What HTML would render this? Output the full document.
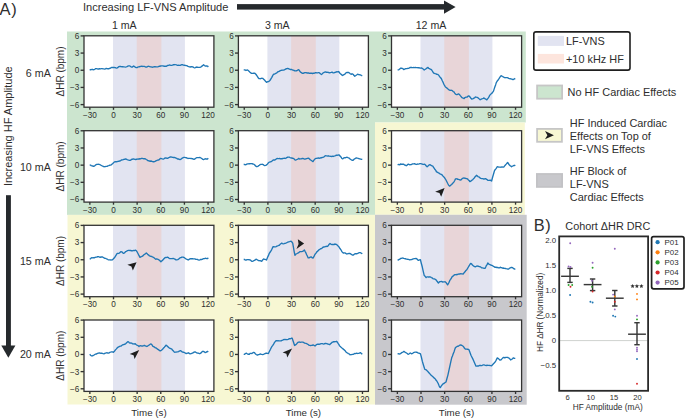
<!DOCTYPE html>
<html><head><meta charset="utf-8"><style>
html,body{margin:0;padding:0;background:#fff;}
body{width:685px;height:418px;overflow:hidden;}
svg{display:block;font-family:"Liberation Sans",sans-serif;}
</style></head><body>
<svg width="685" height="418" viewBox="0 0 685 418">
<rect x="67" y="31.5" width="308" height="183.4" fill="#cce5cf"/>
<rect x="375" y="31.5" width="150.8" height="91.0" fill="#cce5cf"/>
<rect x="67.5" y="214.9" width="307.5" height="189.6" fill="#f7f7d3"/>
<rect x="375" y="122.5" width="149.8" height="92.3" fill="#f7f7d3"/>
<rect x="375" y="214.8" width="151.7" height="189.9" fill="#c8c8cc"/>
<rect x="84.0" y="35.8" width="129.9" height="71.4" fill="#fff"/>
<rect x="113.00" y="35.8" width="71.92" height="71.4" fill="#e2e4f1"/>
<rect x="136.74" y="35.8" width="24.64" height="71.4" fill="#e8d5d8"/>
<polyline points="89.70,70.20 90.54,69.67 91.39,69.53 92.23,69.27 93.08,69.62 93.92,69.76 94.77,69.22 95.61,68.63 96.46,68.62 97.30,68.84 98.11,68.99 98.93,69.00 99.74,68.69 100.56,68.83 101.37,68.65 102.19,68.63 103.00,68.83 103.81,68.91 104.63,69.08 105.44,68.88 106.26,68.32 107.07,68.58 107.89,68.73 108.70,68.90 109.48,68.43 110.27,68.27 111.05,67.68 111.83,67.52 112.62,67.37 113.40,67.51 114.18,67.31 114.96,67.57 115.75,67.77 116.53,68.06 117.31,67.91 118.09,67.38 118.87,66.60 119.65,66.47 120.44,66.41 121.22,66.59 122.00,66.77 122.83,66.64 123.67,66.80 124.50,66.95 125.33,67.08 126.17,66.88 127.00,66.58 127.83,66.17 128.67,65.85 129.50,65.81 130.33,66.26 131.17,66.87 132.00,67.20 132.83,66.61 133.67,66.06 134.50,66.60 135.33,67.32 136.17,67.46 137.00,67.56 137.80,67.10 138.60,66.94 139.40,66.77 140.20,66.48 141.00,66.43 141.80,66.25 142.60,66.47 143.40,66.33 144.20,66.41 145.00,66.73 145.80,67.00 146.60,67.17 147.38,66.66 148.16,66.25 148.95,66.30 149.73,66.54 150.51,66.91 151.29,66.85 152.08,67.24 152.86,67.14 153.64,66.80 154.42,66.68 155.21,66.71 155.99,66.84 156.77,66.86 157.55,66.93 158.34,66.69 159.12,66.23 159.90,66.25 160.68,65.96 161.46,65.89 162.25,65.95 163.03,65.89 163.81,66.25 164.59,66.16 165.38,66.24 166.16,66.32 166.94,65.87 167.72,65.47 168.51,65.43 169.29,65.03 170.07,65.21 170.85,65.44 171.64,65.43 172.42,65.16 173.20,64.78 173.99,64.73 174.78,64.55 175.57,64.70 176.37,64.80 177.16,65.22 177.95,65.33 178.74,65.22 179.53,65.40 180.32,65.31 181.12,64.97 181.91,64.66 182.70,64.75 183.46,65.07 184.22,65.22 184.98,65.45 185.74,65.51 186.50,65.56 187.26,65.93 188.02,66.39 188.78,66.60 189.54,66.83 190.30,67.00 191.14,66.71 191.99,66.77 192.83,66.87 193.68,67.49 194.52,67.90 195.37,67.64 196.21,67.22 197.06,67.02 197.90,67.40 198.71,67.41 199.53,67.38 200.34,67.22 201.16,66.82 201.97,66.14 202.79,65.44 203.60,64.78 204.38,65.49 205.17,66.07 205.95,66.02 206.73,65.99 207.52,66.05 208.30,67.00" fill="none" stroke="#1f77b6" stroke-width="1.35" stroke-linejoin="round"/>
<rect x="84.0" y="35.8" width="129.9" height="71.4" fill="none" stroke="#333333" stroke-width="1.3"/>
<line x1="89.86" y1="107.20" x2="89.86" y2="109.80" stroke="#333333" stroke-width="1.35"/>
<text x="89.86" y="117.70" font-size="8.2" text-anchor="middle" fill="#2e2e2e" >&#8722;30</text>
<line x1="113.50" y1="107.20" x2="113.50" y2="109.80" stroke="#333333" stroke-width="1.35"/>
<text x="113.50" y="117.70" font-size="8.2" text-anchor="middle" fill="#2e2e2e" >0</text>
<line x1="137.14" y1="107.20" x2="137.14" y2="109.80" stroke="#333333" stroke-width="1.35"/>
<text x="137.14" y="117.70" font-size="8.2" text-anchor="middle" fill="#2e2e2e" >30</text>
<line x1="160.78" y1="107.20" x2="160.78" y2="109.80" stroke="#333333" stroke-width="1.35"/>
<text x="160.78" y="117.70" font-size="8.2" text-anchor="middle" fill="#2e2e2e" >60</text>
<line x1="184.42" y1="107.20" x2="184.42" y2="109.80" stroke="#333333" stroke-width="1.35"/>
<text x="184.42" y="117.70" font-size="8.2" text-anchor="middle" fill="#2e2e2e" >90</text>
<line x1="208.06" y1="107.20" x2="208.06" y2="109.80" stroke="#333333" stroke-width="1.35"/>
<text x="208.06" y="117.70" font-size="8.2" text-anchor="middle" fill="#2e2e2e" >120</text>
<line x1="80.60" y1="35.90" x2="84.00" y2="35.90" stroke="#333333" stroke-width="1.35"/>
<text x="79.40" y="38.80" font-size="8.2" text-anchor="end" fill="#2e2e2e" >6</text>
<line x1="80.60" y1="53.07" x2="84.00" y2="53.07" stroke="#333333" stroke-width="1.35"/>
<text x="79.40" y="55.97" font-size="8.2" text-anchor="end" fill="#2e2e2e" >3</text>
<line x1="80.60" y1="70.25" x2="84.00" y2="70.25" stroke="#333333" stroke-width="1.35"/>
<text x="79.40" y="73.15" font-size="8.2" text-anchor="end" fill="#2e2e2e" >0</text>
<line x1="80.60" y1="87.42" x2="84.00" y2="87.42" stroke="#333333" stroke-width="1.35"/>
<text x="79.40" y="90.33" font-size="8.2" text-anchor="end" fill="#2e2e2e" >&#8722;3</text>
<line x1="80.60" y1="104.60" x2="84.00" y2="104.60" stroke="#333333" stroke-width="1.35"/>
<text x="79.40" y="107.50" font-size="8.2" text-anchor="end" fill="#2e2e2e" >&#8722;6</text>
<rect x="238.4" y="35.8" width="130.0" height="71.4" fill="#fff"/>
<rect x="267.40" y="35.8" width="71.92" height="71.4" fill="#e2e4f1"/>
<rect x="291.14" y="35.8" width="24.64" height="71.4" fill="#e8d5d8"/>
<polyline points="243.70,69.80 244.46,69.82 245.22,70.01 245.98,70.49 246.74,70.16 247.50,69.97 248.26,70.60 249.02,71.22 249.78,71.97 250.54,72.65 251.30,73.26 252.06,73.41 252.82,73.39 253.58,73.23 254.34,73.19 255.10,73.50 255.86,74.25 256.62,75.27 257.38,76.42 258.14,77.78 258.90,78.55 259.66,78.66 260.42,78.73 261.18,78.32 261.94,78.28 262.70,78.31 263.46,79.13 264.22,79.70 264.98,80.56 265.74,81.58 266.50,82.33 267.26,81.92 268.02,81.56 268.78,81.50 269.54,80.81 270.30,80.04 271.06,78.59 271.82,77.35 272.58,75.86 273.34,74.45 274.10,74.10 274.86,73.97 275.62,73.34 276.38,73.14 277.14,72.44 277.90,71.75 278.70,71.62 279.50,71.22 280.30,70.62 281.10,70.40 281.90,70.27 282.70,70.20 283.50,70.14 284.34,69.77 285.18,69.46 286.01,68.79 286.85,68.74 287.69,68.42 288.52,68.62 289.36,69.20 290.20,69.47 290.98,69.54 291.77,69.47 292.55,70.04 293.33,70.20 294.12,70.52 294.90,70.75 295.66,70.91 296.42,70.74 297.18,70.57 297.94,69.90 298.70,69.68 299.46,70.71 300.22,71.81 300.98,72.46 301.74,72.85 302.50,73.41 303.26,73.40 304.02,72.95 304.78,72.77 305.54,72.62 306.30,72.69 307.06,73.03 307.82,73.01 308.58,72.95 309.34,73.34 310.10,73.25 310.94,73.23 311.79,73.11 312.63,73.59 313.48,73.18 314.32,73.21 315.17,72.78 316.01,72.78 316.86,72.91 317.70,72.92 318.46,72.68 319.22,72.64 319.98,73.41 320.74,73.98 321.50,74.50 322.26,73.79 323.02,73.03 323.78,72.52 324.54,72.24 325.30,71.93 326.14,72.22 326.99,72.15 327.83,72.38 328.68,72.50 329.52,72.82 330.37,72.57 331.21,72.37 332.06,72.10 332.90,72.76 333.71,72.89 334.53,72.55 335.34,72.26 336.16,72.06 336.97,71.62 337.79,71.80 338.60,71.52 339.36,72.48 340.12,73.56 340.88,74.08 341.64,74.76 342.40,75.46 343.16,75.19 343.92,74.56 344.68,74.27 345.44,73.43 346.20,72.60 347.01,72.51 347.83,72.51 348.64,72.42 349.46,73.07 350.27,73.71 351.09,74.32 351.90,73.85 352.62,74.00 353.35,74.49 354.07,75.52 354.80,76.25 355.50,75.78 356.20,75.21 356.90,74.79 357.60,74.23 358.38,74.51 359.17,74.60 359.95,74.88 360.73,74.98 361.52,75.51 362.30,75.90" fill="none" stroke="#1f77b6" stroke-width="1.35" stroke-linejoin="round"/>
<rect x="238.4" y="35.8" width="130.0" height="71.4" fill="none" stroke="#333333" stroke-width="1.3"/>
<line x1="244.26" y1="107.20" x2="244.26" y2="109.80" stroke="#333333" stroke-width="1.35"/>
<text x="244.26" y="117.70" font-size="8.2" text-anchor="middle" fill="#2e2e2e" >&#8722;30</text>
<line x1="267.90" y1="107.20" x2="267.90" y2="109.80" stroke="#333333" stroke-width="1.35"/>
<text x="267.90" y="117.70" font-size="8.2" text-anchor="middle" fill="#2e2e2e" >0</text>
<line x1="291.54" y1="107.20" x2="291.54" y2="109.80" stroke="#333333" stroke-width="1.35"/>
<text x="291.54" y="117.70" font-size="8.2" text-anchor="middle" fill="#2e2e2e" >30</text>
<line x1="315.18" y1="107.20" x2="315.18" y2="109.80" stroke="#333333" stroke-width="1.35"/>
<text x="315.18" y="117.70" font-size="8.2" text-anchor="middle" fill="#2e2e2e" >60</text>
<line x1="338.82" y1="107.20" x2="338.82" y2="109.80" stroke="#333333" stroke-width="1.35"/>
<text x="338.82" y="117.70" font-size="8.2" text-anchor="middle" fill="#2e2e2e" >90</text>
<line x1="362.46" y1="107.20" x2="362.46" y2="109.80" stroke="#333333" stroke-width="1.35"/>
<text x="362.46" y="117.70" font-size="8.2" text-anchor="middle" fill="#2e2e2e" >120</text>
<line x1="235.00" y1="35.90" x2="238.40" y2="35.90" stroke="#333333" stroke-width="1.35"/>
<text x="233.80" y="38.80" font-size="8.2" text-anchor="end" fill="#2e2e2e" >6</text>
<line x1="235.00" y1="53.07" x2="238.40" y2="53.07" stroke="#333333" stroke-width="1.35"/>
<text x="233.80" y="55.97" font-size="8.2" text-anchor="end" fill="#2e2e2e" >3</text>
<line x1="235.00" y1="70.25" x2="238.40" y2="70.25" stroke="#333333" stroke-width="1.35"/>
<text x="233.80" y="73.15" font-size="8.2" text-anchor="end" fill="#2e2e2e" >0</text>
<line x1="235.00" y1="87.42" x2="238.40" y2="87.42" stroke="#333333" stroke-width="1.35"/>
<text x="233.80" y="90.33" font-size="8.2" text-anchor="end" fill="#2e2e2e" >&#8722;3</text>
<line x1="235.00" y1="104.60" x2="238.40" y2="104.60" stroke="#333333" stroke-width="1.35"/>
<text x="233.80" y="107.50" font-size="8.2" text-anchor="end" fill="#2e2e2e" >&#8722;6</text>
<rect x="391.5" y="35.8" width="130.1" height="71.4" fill="#fff"/>
<rect x="420.50" y="35.8" width="71.92" height="71.4" fill="#e2e4f1"/>
<rect x="444.24" y="35.8" width="24.64" height="71.4" fill="#e8d5d8"/>
<polyline points="397.60,69.90 398.33,69.88 399.05,69.57 399.77,68.94 400.50,68.29 401.31,68.18 402.13,68.39 402.94,68.72 403.76,69.55 404.57,69.16 405.39,68.75 406.20,68.59 406.96,68.65 407.72,68.32 408.48,68.29 409.24,68.02 410.00,67.46 410.76,67.38 411.52,67.50 412.28,67.67 413.04,67.61 413.80,67.46 414.64,67.62 415.49,67.51 416.33,67.66 417.18,67.64 418.02,67.73 418.87,67.58 419.71,67.99 420.56,68.08 421.40,67.95 422.10,68.27 422.80,68.68 423.50,69.36 424.20,70.02 424.96,69.51 425.72,68.99 426.48,68.36 427.24,67.85 428.00,67.40 428.73,68.37 429.45,68.56 430.17,69.13 430.90,69.38 431.60,69.87 432.30,70.99 433.00,72.07 433.70,73.17 434.48,73.37 435.27,73.71 436.05,73.91 436.83,74.40 437.62,74.33 438.40,74.94 439.12,75.82 439.85,76.94 440.57,77.93 441.30,78.42 442.06,80.26 442.82,81.79 443.58,83.60 444.34,85.05 445.10,86.32 445.83,87.23 446.55,87.79 447.27,88.34 448.00,89.07 448.74,89.66 449.48,90.04 450.22,90.32 450.96,90.26 451.70,90.35 452.46,90.79 453.22,91.62 453.98,91.90 454.74,93.08 455.50,94.18 456.26,94.48 457.02,94.64 457.78,94.22 458.54,94.00 459.30,94.29 460.10,95.43 460.90,96.39 461.70,97.31 462.50,97.83 463.30,98.16 464.10,98.54 464.88,97.52 465.67,97.27 466.45,97.12 467.23,97.05 468.02,96.20 468.80,95.83 469.52,96.45 470.25,97.30 470.98,98.25 471.70,99.14 472.46,98.78 473.22,98.58 473.98,98.10 474.74,97.62 475.50,96.97 476.28,97.19 477.07,97.31 477.85,97.65 478.63,98.49 479.42,99.00 480.20,99.82 480.96,99.26 481.72,98.96 482.48,98.68 483.24,98.30 484.00,97.88 484.70,98.69 485.40,98.83 486.10,99.44 486.80,99.87 487.56,98.79 488.32,97.81 489.08,96.67 489.84,95.16 490.60,94.36 491.33,93.59 492.05,93.08 492.77,92.11 493.50,91.10 494.20,88.85 494.90,86.75 495.60,84.91 496.30,82.63 497.10,81.27 497.90,80.29 498.70,79.14 499.50,77.84 500.30,76.64 501.10,75.73 501.86,76.05 502.62,76.52 503.38,76.86 504.14,77.36 504.90,77.73 505.66,77.65 506.42,77.58 507.18,77.63 507.94,77.91 508.70,78.32 509.46,78.65 510.22,78.73 510.98,78.84 511.74,79.07 512.50,79.49 513.43,79.50 514.37,78.87 515.30,78.50" fill="none" stroke="#1f77b6" stroke-width="1.35" stroke-linejoin="round"/>
<rect x="391.5" y="35.8" width="130.1" height="71.4" fill="none" stroke="#333333" stroke-width="1.3"/>
<line x1="397.36" y1="107.20" x2="397.36" y2="109.80" stroke="#333333" stroke-width="1.35"/>
<text x="397.36" y="117.70" font-size="8.2" text-anchor="middle" fill="#2e2e2e" >&#8722;30</text>
<line x1="421.00" y1="107.20" x2="421.00" y2="109.80" stroke="#333333" stroke-width="1.35"/>
<text x="421.00" y="117.70" font-size="8.2" text-anchor="middle" fill="#2e2e2e" >0</text>
<line x1="444.64" y1="107.20" x2="444.64" y2="109.80" stroke="#333333" stroke-width="1.35"/>
<text x="444.64" y="117.70" font-size="8.2" text-anchor="middle" fill="#2e2e2e" >30</text>
<line x1="468.28" y1="107.20" x2="468.28" y2="109.80" stroke="#333333" stroke-width="1.35"/>
<text x="468.28" y="117.70" font-size="8.2" text-anchor="middle" fill="#2e2e2e" >60</text>
<line x1="491.92" y1="107.20" x2="491.92" y2="109.80" stroke="#333333" stroke-width="1.35"/>
<text x="491.92" y="117.70" font-size="8.2" text-anchor="middle" fill="#2e2e2e" >90</text>
<line x1="515.56" y1="107.20" x2="515.56" y2="109.80" stroke="#333333" stroke-width="1.35"/>
<text x="515.56" y="117.70" font-size="8.2" text-anchor="middle" fill="#2e2e2e" >120</text>
<line x1="388.10" y1="35.90" x2="391.50" y2="35.90" stroke="#333333" stroke-width="1.35"/>
<text x="386.90" y="38.80" font-size="8.2" text-anchor="end" fill="#2e2e2e" >6</text>
<line x1="388.10" y1="53.07" x2="391.50" y2="53.07" stroke="#333333" stroke-width="1.35"/>
<text x="386.90" y="55.97" font-size="8.2" text-anchor="end" fill="#2e2e2e" >3</text>
<line x1="388.10" y1="70.25" x2="391.50" y2="70.25" stroke="#333333" stroke-width="1.35"/>
<text x="386.90" y="73.15" font-size="8.2" text-anchor="end" fill="#2e2e2e" >0</text>
<line x1="388.10" y1="87.42" x2="391.50" y2="87.42" stroke="#333333" stroke-width="1.35"/>
<text x="386.90" y="90.33" font-size="8.2" text-anchor="end" fill="#2e2e2e" >&#8722;3</text>
<line x1="388.10" y1="104.60" x2="391.50" y2="104.60" stroke="#333333" stroke-width="1.35"/>
<text x="386.90" y="107.50" font-size="8.2" text-anchor="end" fill="#2e2e2e" >&#8722;6</text>
<rect x="84.0" y="130.7" width="129.9" height="71.4" fill="#fff"/>
<rect x="113.00" y="130.7" width="71.92" height="71.4" fill="#e2e4f1"/>
<rect x="136.74" y="130.7" width="24.64" height="71.4" fill="#e8d5d8"/>
<polyline points="89.70,164.90 90.46,165.08 91.22,165.65 91.98,165.84 92.74,166.02 93.50,166.25 94.28,166.08 95.07,165.51 95.85,164.76 96.63,164.41 97.42,164.38 98.20,164.28 99.01,164.31 99.83,164.55 100.64,165.05 101.46,165.51 102.27,166.04 103.09,166.21 103.90,166.81 104.70,166.61 105.50,166.53 106.30,166.42 107.10,166.44 107.90,165.79 108.70,165.62 109.46,165.28 110.22,165.17 110.98,165.09 111.74,164.26 112.50,163.87 113.28,162.96 114.07,162.31 114.85,161.79 115.63,161.74 116.42,161.74 117.20,161.67 118.04,161.28 118.88,161.32 119.71,160.89 120.55,160.72 121.39,159.99 122.23,159.84 123.06,159.74 123.90,159.42 124.70,159.27 125.50,158.99 126.30,159.21 127.10,159.60 127.90,159.90 128.70,160.04 129.50,160.36 130.26,160.35 131.02,159.91 131.78,159.27 132.54,159.24 133.30,158.84 134.11,159.07 134.93,159.32 135.74,159.51 136.56,159.26 137.37,159.08 138.19,158.91 139.00,159.24 139.81,158.67 140.63,158.85 141.44,158.44 142.26,158.40 143.07,158.69 143.89,158.79 144.70,158.66 145.50,158.93 146.30,159.52 147.10,159.96 147.90,160.66 148.70,160.78 149.50,161.02 150.28,161.26 151.07,160.99 151.85,161.27 152.63,161.55 153.42,161.76 154.20,161.71 155.01,161.38 155.83,160.86 156.64,160.67 157.46,160.06 158.27,159.99 159.09,159.74 159.90,158.85 160.71,158.36 161.53,158.60 162.34,158.83 163.16,159.04 163.97,158.78 164.79,158.13 165.60,157.92 166.36,157.96 167.12,158.40 167.88,158.23 168.64,157.67 169.40,157.35 170.21,156.96 171.03,157.02 171.84,157.12 172.66,157.40 173.47,157.48 174.29,157.48 175.10,157.71 175.91,158.01 176.73,158.42 177.54,158.98 178.36,158.94 179.17,159.36 179.99,159.50 180.80,159.29 181.58,158.65 182.37,158.07 183.15,157.69 183.93,157.41 184.72,157.35 185.50,157.56 186.30,157.76 187.10,158.02 187.90,158.47 188.70,158.43 189.50,158.41 190.30,158.45 191.06,158.64 191.82,158.52 192.58,158.76 193.34,159.03 194.10,159.38 194.91,158.96 195.73,158.29 196.54,157.69 197.36,157.64 198.17,157.70 198.99,157.57 199.80,157.37 200.56,157.76 201.32,158.25 202.08,158.80 202.84,159.35 203.60,159.59 204.38,159.24 205.17,158.74 205.95,159.08 206.73,158.93 207.52,158.99 208.30,158.30" fill="none" stroke="#1f77b6" stroke-width="1.35" stroke-linejoin="round"/>
<rect x="84.0" y="130.7" width="129.9" height="71.4" fill="none" stroke="#333333" stroke-width="1.3"/>
<line x1="89.86" y1="202.10" x2="89.86" y2="204.70" stroke="#333333" stroke-width="1.35"/>
<text x="89.86" y="212.60" font-size="8.2" text-anchor="middle" fill="#2e2e2e" >&#8722;30</text>
<line x1="113.50" y1="202.10" x2="113.50" y2="204.70" stroke="#333333" stroke-width="1.35"/>
<text x="113.50" y="212.60" font-size="8.2" text-anchor="middle" fill="#2e2e2e" >0</text>
<line x1="137.14" y1="202.10" x2="137.14" y2="204.70" stroke="#333333" stroke-width="1.35"/>
<text x="137.14" y="212.60" font-size="8.2" text-anchor="middle" fill="#2e2e2e" >30</text>
<line x1="160.78" y1="202.10" x2="160.78" y2="204.70" stroke="#333333" stroke-width="1.35"/>
<text x="160.78" y="212.60" font-size="8.2" text-anchor="middle" fill="#2e2e2e" >60</text>
<line x1="184.42" y1="202.10" x2="184.42" y2="204.70" stroke="#333333" stroke-width="1.35"/>
<text x="184.42" y="212.60" font-size="8.2" text-anchor="middle" fill="#2e2e2e" >90</text>
<line x1="208.06" y1="202.10" x2="208.06" y2="204.70" stroke="#333333" stroke-width="1.35"/>
<text x="208.06" y="212.60" font-size="8.2" text-anchor="middle" fill="#2e2e2e" >120</text>
<line x1="80.60" y1="130.80" x2="84.00" y2="130.80" stroke="#333333" stroke-width="1.35"/>
<text x="79.40" y="133.70" font-size="8.2" text-anchor="end" fill="#2e2e2e" >6</text>
<line x1="80.60" y1="147.97" x2="84.00" y2="147.97" stroke="#333333" stroke-width="1.35"/>
<text x="79.40" y="150.87" font-size="8.2" text-anchor="end" fill="#2e2e2e" >3</text>
<line x1="80.60" y1="165.15" x2="84.00" y2="165.15" stroke="#333333" stroke-width="1.35"/>
<text x="79.40" y="168.05" font-size="8.2" text-anchor="end" fill="#2e2e2e" >0</text>
<line x1="80.60" y1="182.32" x2="84.00" y2="182.32" stroke="#333333" stroke-width="1.35"/>
<text x="79.40" y="185.22" font-size="8.2" text-anchor="end" fill="#2e2e2e" >&#8722;3</text>
<line x1="80.60" y1="199.50" x2="84.00" y2="199.50" stroke="#333333" stroke-width="1.35"/>
<text x="79.40" y="202.40" font-size="8.2" text-anchor="end" fill="#2e2e2e" >&#8722;6</text>
<rect x="238.4" y="130.7" width="130.0" height="71.4" fill="#fff"/>
<rect x="267.40" y="130.7" width="71.92" height="71.4" fill="#e2e4f1"/>
<rect x="291.14" y="130.7" width="24.64" height="71.4" fill="#e8d5d8"/>
<polyline points="243.70,164.50 244.47,164.33 245.25,164.73 246.02,164.64 246.79,164.20 247.56,163.83 248.34,163.91 249.11,163.64 249.88,163.73 250.65,163.60 251.43,163.58 252.20,163.71 253.00,164.10 253.80,164.19 254.60,164.73 255.40,165.81 256.20,166.48 257.00,166.68 257.76,166.47 258.52,165.72 259.28,165.34 260.04,164.64 260.80,164.37 261.61,164.31 262.43,164.29 263.24,164.61 264.06,165.28 264.87,165.61 265.69,165.46 266.50,164.87 267.26,164.22 268.02,163.31 268.78,162.55 269.54,162.04 270.30,161.81 271.06,161.73 271.82,161.29 272.58,160.37 273.34,160.02 274.10,159.86 274.88,160.07 275.67,159.44 276.45,158.79 277.23,158.48 278.02,158.60 278.80,158.57 279.58,158.45 280.37,158.83 281.15,158.65 281.93,158.78 282.72,158.50 283.50,158.41 284.31,158.19 285.13,158.48 285.94,158.12 286.76,157.62 287.57,157.22 288.39,157.17 289.20,157.08 290.01,157.52 290.83,157.78 291.64,158.01 292.46,158.23 293.27,158.47 294.09,158.87 294.90,159.87 295.66,160.12 296.42,159.75 297.18,159.42 297.94,158.96 298.70,158.37 299.51,158.96 300.33,158.94 301.14,158.86 301.96,158.52 302.77,158.46 303.59,158.70 304.40,159.11 305.16,159.07 305.92,158.75 306.68,158.58 307.44,158.38 308.20,158.26 309.00,158.44 309.80,159.36 310.60,159.99 311.40,160.43 312.20,161.10 313.00,161.57 313.78,160.44 314.57,159.33 315.35,158.72 316.13,158.42 316.92,158.27 317.70,158.05 318.46,158.00 319.22,158.24 319.98,158.13 320.74,157.77 321.50,157.89 322.26,157.38 323.02,157.35 323.78,157.00 324.54,156.37 325.30,155.67 326.11,155.82 326.93,155.81 327.74,156.08 328.56,155.79 329.37,156.11 330.19,156.29 331.00,156.41 331.76,156.54 332.52,156.23 333.28,156.46 334.04,156.16 334.80,155.95 335.58,155.65 336.37,155.12 337.15,155.25 337.93,155.18 338.72,154.93 339.50,155.24 340.23,156.29 340.95,156.95 341.67,158.16 342.40,158.81 343.18,158.57 343.97,157.84 344.75,157.64 345.53,157.74 346.32,157.38 347.10,157.24 347.91,157.62 348.73,157.85 349.54,158.49 350.36,159.29 351.17,159.78 351.99,160.28 352.80,160.37 353.56,159.86 354.32,158.95 355.08,158.61 355.84,158.05 356.60,157.92 357.41,158.14 358.23,158.31 359.04,158.79 359.86,158.87 360.67,159.07 361.49,159.37 362.30,159.20" fill="none" stroke="#1f77b6" stroke-width="1.35" stroke-linejoin="round"/>
<rect x="238.4" y="130.7" width="130.0" height="71.4" fill="none" stroke="#333333" stroke-width="1.3"/>
<line x1="244.26" y1="202.10" x2="244.26" y2="204.70" stroke="#333333" stroke-width="1.35"/>
<text x="244.26" y="212.60" font-size="8.2" text-anchor="middle" fill="#2e2e2e" >&#8722;30</text>
<line x1="267.90" y1="202.10" x2="267.90" y2="204.70" stroke="#333333" stroke-width="1.35"/>
<text x="267.90" y="212.60" font-size="8.2" text-anchor="middle" fill="#2e2e2e" >0</text>
<line x1="291.54" y1="202.10" x2="291.54" y2="204.70" stroke="#333333" stroke-width="1.35"/>
<text x="291.54" y="212.60" font-size="8.2" text-anchor="middle" fill="#2e2e2e" >30</text>
<line x1="315.18" y1="202.10" x2="315.18" y2="204.70" stroke="#333333" stroke-width="1.35"/>
<text x="315.18" y="212.60" font-size="8.2" text-anchor="middle" fill="#2e2e2e" >60</text>
<line x1="338.82" y1="202.10" x2="338.82" y2="204.70" stroke="#333333" stroke-width="1.35"/>
<text x="338.82" y="212.60" font-size="8.2" text-anchor="middle" fill="#2e2e2e" >90</text>
<line x1="362.46" y1="202.10" x2="362.46" y2="204.70" stroke="#333333" stroke-width="1.35"/>
<text x="362.46" y="212.60" font-size="8.2" text-anchor="middle" fill="#2e2e2e" >120</text>
<line x1="235.00" y1="130.80" x2="238.40" y2="130.80" stroke="#333333" stroke-width="1.35"/>
<text x="233.80" y="133.70" font-size="8.2" text-anchor="end" fill="#2e2e2e" >6</text>
<line x1="235.00" y1="147.97" x2="238.40" y2="147.97" stroke="#333333" stroke-width="1.35"/>
<text x="233.80" y="150.87" font-size="8.2" text-anchor="end" fill="#2e2e2e" >3</text>
<line x1="235.00" y1="165.15" x2="238.40" y2="165.15" stroke="#333333" stroke-width="1.35"/>
<text x="233.80" y="168.05" font-size="8.2" text-anchor="end" fill="#2e2e2e" >0</text>
<line x1="235.00" y1="182.32" x2="238.40" y2="182.32" stroke="#333333" stroke-width="1.35"/>
<text x="233.80" y="185.22" font-size="8.2" text-anchor="end" fill="#2e2e2e" >&#8722;3</text>
<line x1="235.00" y1="199.50" x2="238.40" y2="199.50" stroke="#333333" stroke-width="1.35"/>
<text x="233.80" y="202.40" font-size="8.2" text-anchor="end" fill="#2e2e2e" >&#8722;6</text>
<rect x="391.5" y="130.7" width="130.1" height="71.4" fill="#fff"/>
<rect x="420.50" y="130.7" width="71.92" height="71.4" fill="#e2e4f1"/>
<rect x="444.24" y="130.7" width="24.64" height="71.4" fill="#e8d5d8"/>
<polyline points="397.60,164.90 398.33,164.52 399.05,164.52 399.77,164.90 400.50,164.02 401.31,164.22 402.13,164.21 402.94,164.23 403.76,164.24 404.57,164.97 405.39,165.17 406.20,165.74 406.96,165.31 407.72,164.40 408.48,164.22 409.24,164.57 410.00,164.72 410.76,164.70 411.52,164.52 412.28,164.01 413.04,163.93 413.80,163.79 414.56,163.63 415.32,164.22 416.08,164.43 416.84,164.45 417.60,163.97 418.38,164.10 419.17,163.88 419.95,163.60 420.73,163.56 421.52,163.81 422.30,164.08 423.10,164.45 423.90,164.42 424.70,164.26 425.50,165.01 426.30,166.04 427.10,166.78 428.03,165.97 428.97,165.06 429.90,164.64 430.62,165.13 431.35,165.45 432.07,165.95 432.80,166.19 433.54,167.35 434.28,168.46 435.02,169.55 435.76,170.36 436.50,171.87 437.30,172.16 438.10,172.68 438.90,173.02 439.70,173.59 440.50,174.05 441.30,174.35 442.06,174.91 442.82,175.97 443.58,176.59 444.34,177.43 445.10,178.59 445.98,180.01 446.86,181.78 447.74,183.53 448.62,185.08 449.50,186.16 450.23,185.63 450.97,185.02 451.70,184.53 452.46,183.42 453.22,182.71 453.98,181.82 454.74,180.48 455.50,178.92 456.26,178.81 457.02,178.75 457.78,179.35 458.54,179.31 459.30,179.72 460.06,179.82 460.82,180.02 461.58,179.20 462.34,178.53 463.10,178.09 463.86,178.03 464.62,178.21 465.38,178.29 466.14,178.48 466.90,178.65 467.62,179.03 468.35,179.90 469.07,180.49 469.80,181.62 470.50,181.29 471.20,180.95 471.90,180.07 472.60,179.84 473.36,178.88 474.12,178.16 474.88,177.08 475.64,176.29 476.40,175.29 477.16,175.84 477.92,176.59 478.68,176.92 479.44,177.19 480.20,178.06 480.96,178.43 481.72,178.67 482.48,178.68 483.24,178.77 484.00,179.08 484.76,178.77 485.52,178.72 486.28,179.12 487.04,179.57 487.80,180.28 488.56,180.32 489.32,180.41 490.08,180.23 490.84,180.49 491.60,181.03 492.53,177.49 493.47,174.29 494.40,170.95 495.12,169.71 495.85,168.85 496.57,167.79 497.30,166.73 498.06,166.83 498.82,167.12 499.58,167.12 500.34,167.06 501.10,167.24 502.03,166.84 502.97,167.12 503.90,166.96 504.66,165.92 505.42,164.97 506.18,164.16 506.94,163.31 507.70,162.43 508.46,163.78 509.22,164.74 509.98,165.57 510.74,166.04 511.50,166.82 512.26,166.25 513.02,165.93 513.78,165.47 514.54,165.55 515.30,164.90" fill="none" stroke="#1f77b6" stroke-width="1.35" stroke-linejoin="round"/>
<rect x="391.5" y="130.7" width="130.1" height="71.4" fill="none" stroke="#333333" stroke-width="1.3"/>
<line x1="397.36" y1="202.10" x2="397.36" y2="204.70" stroke="#333333" stroke-width="1.35"/>
<text x="397.36" y="212.60" font-size="8.2" text-anchor="middle" fill="#2e2e2e" >&#8722;30</text>
<line x1="421.00" y1="202.10" x2="421.00" y2="204.70" stroke="#333333" stroke-width="1.35"/>
<text x="421.00" y="212.60" font-size="8.2" text-anchor="middle" fill="#2e2e2e" >0</text>
<line x1="444.64" y1="202.10" x2="444.64" y2="204.70" stroke="#333333" stroke-width="1.35"/>
<text x="444.64" y="212.60" font-size="8.2" text-anchor="middle" fill="#2e2e2e" >30</text>
<line x1="468.28" y1="202.10" x2="468.28" y2="204.70" stroke="#333333" stroke-width="1.35"/>
<text x="468.28" y="212.60" font-size="8.2" text-anchor="middle" fill="#2e2e2e" >60</text>
<line x1="491.92" y1="202.10" x2="491.92" y2="204.70" stroke="#333333" stroke-width="1.35"/>
<text x="491.92" y="212.60" font-size="8.2" text-anchor="middle" fill="#2e2e2e" >90</text>
<line x1="515.56" y1="202.10" x2="515.56" y2="204.70" stroke="#333333" stroke-width="1.35"/>
<text x="515.56" y="212.60" font-size="8.2" text-anchor="middle" fill="#2e2e2e" >120</text>
<line x1="388.10" y1="130.80" x2="391.50" y2="130.80" stroke="#333333" stroke-width="1.35"/>
<text x="386.90" y="133.70" font-size="8.2" text-anchor="end" fill="#2e2e2e" >6</text>
<line x1="388.10" y1="147.97" x2="391.50" y2="147.97" stroke="#333333" stroke-width="1.35"/>
<text x="386.90" y="150.87" font-size="8.2" text-anchor="end" fill="#2e2e2e" >3</text>
<line x1="388.10" y1="165.15" x2="391.50" y2="165.15" stroke="#333333" stroke-width="1.35"/>
<text x="386.90" y="168.05" font-size="8.2" text-anchor="end" fill="#2e2e2e" >0</text>
<line x1="388.10" y1="182.32" x2="391.50" y2="182.32" stroke="#333333" stroke-width="1.35"/>
<text x="386.90" y="185.22" font-size="8.2" text-anchor="end" fill="#2e2e2e" >&#8722;3</text>
<line x1="388.10" y1="199.50" x2="391.50" y2="199.50" stroke="#333333" stroke-width="1.35"/>
<text x="386.90" y="202.40" font-size="8.2" text-anchor="end" fill="#2e2e2e" >&#8722;6</text>
<rect x="84.0" y="225.3" width="129.9" height="71.4" fill="#fff"/>
<rect x="113.00" y="225.3" width="71.92" height="71.4" fill="#e2e4f1"/>
<rect x="136.74" y="225.3" width="24.64" height="71.4" fill="#e8d5d8"/>
<polyline points="89.70,259.30 90.46,258.69 91.22,257.93 91.98,257.70 92.74,257.86 93.50,257.70 94.34,257.74 95.19,257.46 96.03,257.20 96.88,257.09 97.72,256.59 98.57,256.69 99.41,257.10 100.26,257.24 101.10,256.99 101.86,256.92 102.62,256.99 103.38,257.47 104.14,258.07 104.90,258.24 105.66,258.35 106.42,258.78 107.18,259.05 107.94,259.54 108.70,259.94 109.46,259.81 110.22,259.93 110.98,260.04 111.74,259.90 112.50,259.81 113.45,258.82 114.40,257.77 115.33,256.27 116.27,254.77 117.20,253.44 117.96,253.42 118.72,253.45 119.48,253.02 120.24,252.21 121.00,251.58 121.76,251.78 122.52,252.58 123.28,253.40 124.04,253.05 124.80,252.66 125.53,251.64 126.25,251.34 126.97,250.98 127.70,250.66 128.44,250.43 129.18,250.39 129.92,250.49 130.66,250.40 131.40,250.79 132.20,250.90 133.00,250.55 133.80,250.40 134.60,250.58 135.40,250.19 136.20,250.53 137.15,251.97 138.10,253.71 139.05,255.68 140.00,257.41 140.70,256.82 141.40,256.67 142.10,256.31 142.80,255.95 143.68,255.07 144.55,254.35 145.43,253.74 146.30,252.92 147.10,253.65 147.90,254.61 148.70,255.05 149.50,255.92 150.20,256.07 150.90,256.43 151.60,256.33 152.30,256.83 153.15,257.20 154.00,257.79 154.85,258.58 155.70,259.24 156.52,258.87 157.35,259.13 158.18,259.49 159.00,259.96 159.95,260.83 160.90,261.81 161.83,260.85 162.77,260.15 163.70,259.06 164.46,258.28 165.22,257.54 165.98,257.63 166.74,257.37 167.50,257.21 168.30,257.61 169.10,258.30 169.90,258.58 170.70,258.60 171.50,258.62 172.30,258.60 173.04,258.40 173.78,258.67 174.52,258.83 175.26,259.34 176.00,259.83 176.84,259.83 177.68,259.69 178.51,259.09 179.35,258.46 180.19,257.66 181.02,257.62 181.86,257.11 182.70,257.07 183.48,257.22 184.27,257.67 185.05,258.19 185.83,258.83 186.62,259.24 187.40,259.57 188.24,259.95 189.07,259.42 189.91,258.94 190.75,258.63 191.59,258.71 192.43,258.69 193.26,258.82 194.10,258.89 194.92,258.93 195.75,259.31 196.57,259.43 197.40,259.32 198.22,259.86 199.05,260.06 199.88,259.87 200.70,259.47 201.46,259.49 202.22,259.28 202.98,258.91 203.74,258.62 204.50,258.68 205.26,258.29 206.02,258.38 206.78,258.58 207.54,258.65 208.30,257.80" fill="none" stroke="#1f77b6" stroke-width="1.35" stroke-linejoin="round"/>
<rect x="84.0" y="225.3" width="129.9" height="71.4" fill="none" stroke="#333333" stroke-width="1.3"/>
<line x1="89.86" y1="296.70" x2="89.86" y2="299.30" stroke="#333333" stroke-width="1.35"/>
<text x="89.86" y="307.20" font-size="8.2" text-anchor="middle" fill="#2e2e2e" >&#8722;30</text>
<line x1="113.50" y1="296.70" x2="113.50" y2="299.30" stroke="#333333" stroke-width="1.35"/>
<text x="113.50" y="307.20" font-size="8.2" text-anchor="middle" fill="#2e2e2e" >0</text>
<line x1="137.14" y1="296.70" x2="137.14" y2="299.30" stroke="#333333" stroke-width="1.35"/>
<text x="137.14" y="307.20" font-size="8.2" text-anchor="middle" fill="#2e2e2e" >30</text>
<line x1="160.78" y1="296.70" x2="160.78" y2="299.30" stroke="#333333" stroke-width="1.35"/>
<text x="160.78" y="307.20" font-size="8.2" text-anchor="middle" fill="#2e2e2e" >60</text>
<line x1="184.42" y1="296.70" x2="184.42" y2="299.30" stroke="#333333" stroke-width="1.35"/>
<text x="184.42" y="307.20" font-size="8.2" text-anchor="middle" fill="#2e2e2e" >90</text>
<line x1="208.06" y1="296.70" x2="208.06" y2="299.30" stroke="#333333" stroke-width="1.35"/>
<text x="208.06" y="307.20" font-size="8.2" text-anchor="middle" fill="#2e2e2e" >120</text>
<line x1="80.60" y1="225.40" x2="84.00" y2="225.40" stroke="#333333" stroke-width="1.35"/>
<text x="79.40" y="228.30" font-size="8.2" text-anchor="end" fill="#2e2e2e" >6</text>
<line x1="80.60" y1="242.57" x2="84.00" y2="242.57" stroke="#333333" stroke-width="1.35"/>
<text x="79.40" y="245.47" font-size="8.2" text-anchor="end" fill="#2e2e2e" >3</text>
<line x1="80.60" y1="259.75" x2="84.00" y2="259.75" stroke="#333333" stroke-width="1.35"/>
<text x="79.40" y="262.65" font-size="8.2" text-anchor="end" fill="#2e2e2e" >0</text>
<line x1="80.60" y1="276.93" x2="84.00" y2="276.93" stroke="#333333" stroke-width="1.35"/>
<text x="79.40" y="279.82" font-size="8.2" text-anchor="end" fill="#2e2e2e" >&#8722;3</text>
<line x1="80.60" y1="294.10" x2="84.00" y2="294.10" stroke="#333333" stroke-width="1.35"/>
<text x="79.40" y="297.00" font-size="8.2" text-anchor="end" fill="#2e2e2e" >&#8722;6</text>
<rect x="238.4" y="225.3" width="130.0" height="71.4" fill="#fff"/>
<rect x="267.40" y="225.3" width="71.92" height="71.4" fill="#e2e4f1"/>
<rect x="291.14" y="225.3" width="24.64" height="71.4" fill="#e8d5d8"/>
<polyline points="243.70,259.50 244.46,259.43 245.22,259.85 245.98,260.20 246.74,259.77 247.50,259.65 248.28,259.61 249.07,259.71 249.85,259.86 250.63,260.18 251.42,261.04 252.20,261.44 252.96,261.15 253.72,260.73 254.48,260.38 255.24,259.92 256.00,259.15 256.81,259.54 257.63,260.02 258.44,260.64 259.26,260.63 260.07,260.75 260.89,260.91 261.70,261.27 262.65,259.94 263.60,258.98 264.33,259.22 265.05,259.37 265.77,259.55 266.50,260.04 267.20,258.26 267.90,256.60 268.60,255.16 269.30,253.35 270.06,252.26 270.82,251.20 271.58,249.82 272.34,248.16 273.10,246.63 273.86,246.76 274.62,246.91 275.38,246.90 276.14,246.66 276.90,246.19 277.70,245.90 278.50,245.47 279.30,245.25 280.10,244.35 280.90,243.70 281.70,243.08 282.48,243.59 283.27,243.86 284.05,243.69 284.83,243.30 285.62,243.21 286.40,242.94 287.18,242.49 287.97,242.03 288.75,241.85 289.53,241.69 290.32,241.43 291.10,241.23 291.90,242.00 292.70,243.06 293.43,247.05 294.17,251.56 294.90,255.22 295.77,254.22 296.65,253.77 297.52,253.24 298.40,252.89 299.20,252.26 300.00,251.66 300.80,251.59 301.60,251.67 302.53,251.43 303.47,250.82 304.40,249.99 305.16,251.50 305.92,252.92 306.68,254.68 307.44,256.23 308.20,257.92 309.00,257.88 309.80,257.33 310.60,257.04 311.40,256.95 312.20,257.83 313.00,258.01 313.76,256.96 314.52,255.29 315.28,253.95 316.04,253.15 316.80,251.87 317.56,251.37 318.32,250.45 319.08,249.70 319.84,249.33 320.60,248.65 321.38,248.59 322.17,248.02 322.95,247.23 323.73,247.01 324.52,246.84 325.30,246.54 326.08,246.55 326.87,246.22 327.65,246.45 328.43,245.44 329.22,244.20 330.00,243.47 330.80,244.09 331.60,244.52 332.40,244.36 333.20,244.46 334.00,244.62 334.80,244.00 335.56,244.29 336.32,244.36 337.08,244.92 337.84,245.78 338.60,246.44 339.38,247.53 340.17,248.77 340.95,249.80 341.73,251.32 342.52,252.32 343.30,253.15 344.10,252.82 344.90,252.82 345.70,253.30 346.50,253.95 347.30,253.86 348.10,253.56 348.91,253.45 349.73,253.54 350.54,253.65 351.36,254.41 352.17,254.79 352.99,255.23 353.80,254.68 354.61,253.89 355.43,253.68 356.24,253.74 357.06,253.77 357.87,253.29 358.69,252.95 359.50,252.70 360.20,252.68 360.90,252.99 361.60,253.34 362.30,253.80" fill="none" stroke="#1f77b6" stroke-width="1.35" stroke-linejoin="round"/>
<rect x="238.4" y="225.3" width="130.0" height="71.4" fill="none" stroke="#333333" stroke-width="1.3"/>
<line x1="244.26" y1="296.70" x2="244.26" y2="299.30" stroke="#333333" stroke-width="1.35"/>
<text x="244.26" y="307.20" font-size="8.2" text-anchor="middle" fill="#2e2e2e" >&#8722;30</text>
<line x1="267.90" y1="296.70" x2="267.90" y2="299.30" stroke="#333333" stroke-width="1.35"/>
<text x="267.90" y="307.20" font-size="8.2" text-anchor="middle" fill="#2e2e2e" >0</text>
<line x1="291.54" y1="296.70" x2="291.54" y2="299.30" stroke="#333333" stroke-width="1.35"/>
<text x="291.54" y="307.20" font-size="8.2" text-anchor="middle" fill="#2e2e2e" >30</text>
<line x1="315.18" y1="296.70" x2="315.18" y2="299.30" stroke="#333333" stroke-width="1.35"/>
<text x="315.18" y="307.20" font-size="8.2" text-anchor="middle" fill="#2e2e2e" >60</text>
<line x1="338.82" y1="296.70" x2="338.82" y2="299.30" stroke="#333333" stroke-width="1.35"/>
<text x="338.82" y="307.20" font-size="8.2" text-anchor="middle" fill="#2e2e2e" >90</text>
<line x1="362.46" y1="296.70" x2="362.46" y2="299.30" stroke="#333333" stroke-width="1.35"/>
<text x="362.46" y="307.20" font-size="8.2" text-anchor="middle" fill="#2e2e2e" >120</text>
<line x1="235.00" y1="225.40" x2="238.40" y2="225.40" stroke="#333333" stroke-width="1.35"/>
<text x="233.80" y="228.30" font-size="8.2" text-anchor="end" fill="#2e2e2e" >6</text>
<line x1="235.00" y1="242.57" x2="238.40" y2="242.57" stroke="#333333" stroke-width="1.35"/>
<text x="233.80" y="245.47" font-size="8.2" text-anchor="end" fill="#2e2e2e" >3</text>
<line x1="235.00" y1="259.75" x2="238.40" y2="259.75" stroke="#333333" stroke-width="1.35"/>
<text x="233.80" y="262.65" font-size="8.2" text-anchor="end" fill="#2e2e2e" >0</text>
<line x1="235.00" y1="276.93" x2="238.40" y2="276.93" stroke="#333333" stroke-width="1.35"/>
<text x="233.80" y="279.82" font-size="8.2" text-anchor="end" fill="#2e2e2e" >&#8722;3</text>
<line x1="235.00" y1="294.10" x2="238.40" y2="294.10" stroke="#333333" stroke-width="1.35"/>
<text x="233.80" y="297.00" font-size="8.2" text-anchor="end" fill="#2e2e2e" >&#8722;6</text>
<rect x="391.5" y="225.3" width="130.1" height="71.4" fill="#fff"/>
<rect x="420.50" y="225.3" width="71.92" height="71.4" fill="#e2e4f1"/>
<rect x="444.24" y="225.3" width="24.64" height="71.4" fill="#e8d5d8"/>
<polyline points="397.60,259.60 398.33,260.04 399.05,259.43 399.77,259.23 400.50,258.52 401.31,258.39 402.13,258.05 402.94,258.01 403.76,258.35 404.57,258.56 405.39,258.72 406.20,259.05 406.96,259.07 407.72,259.41 408.48,259.41 409.24,259.76 410.00,259.83 410.84,259.69 411.68,259.61 412.52,259.15 413.36,258.81 414.20,258.63 415.05,258.66 415.90,258.52 416.75,258.73 417.60,259.95 418.53,260.34 419.47,259.87 420.40,259.71 421.35,263.52 422.30,267.03 423.25,271.46 424.20,275.45 425.15,276.31 426.10,277.62 426.86,276.85 427.62,276.93 428.38,277.02 429.14,277.18 429.90,276.74 430.62,277.07 431.35,277.54 432.07,277.82 432.80,278.55 433.50,278.80 434.20,278.87 434.90,279.18 435.60,279.51 436.53,280.56 437.47,281.78 438.40,283.01 439.12,282.36 439.85,281.56 440.57,281.65 441.30,281.42 442.06,281.70 442.82,282.07 443.58,281.92 444.34,281.82 445.10,281.78 445.93,282.45 446.77,283.68 447.60,284.87 448.33,283.61 449.07,282.19 449.80,280.43 450.60,279.40 451.40,278.04 452.20,276.65 453.00,276.15 453.80,275.38 454.60,274.69 455.36,274.62 456.12,274.80 456.88,274.38 457.64,274.46 458.40,274.04 459.18,273.81 459.97,274.00 460.75,273.60 461.53,273.91 462.32,273.91 463.10,274.10 464.05,272.78 465.00,271.81 465.81,270.61 466.63,269.89 467.44,268.63 468.26,267.24 469.07,265.86 469.89,264.49 470.70,263.35 471.46,263.78 472.22,264.76 472.98,265.49 473.74,266.11 474.50,266.51 475.31,266.80 476.13,266.44 476.94,265.97 477.76,266.22 478.57,266.27 479.39,266.61 480.20,266.78 481.00,267.28 481.80,267.91 482.60,267.95 483.40,268.12 484.20,268.35 485.00,268.30 485.70,267.10 486.40,265.51 487.10,264.61 487.80,262.99 488.56,263.88 489.32,264.36 490.08,264.71 490.84,265.07 491.60,265.25 492.53,265.71 493.47,266.32 494.40,267.02 495.24,267.26 496.07,267.26 496.91,267.49 497.75,267.51 498.59,267.81 499.43,267.82 500.26,267.25 501.10,267.56 501.94,267.73 502.79,268.30 503.63,268.01 504.48,268.43 505.32,268.48 506.17,268.69 507.01,268.84 507.86,269.14 508.70,268.97 509.46,268.27 510.22,267.85 510.98,267.51 511.74,267.34 512.50,267.61 513.43,268.50 514.37,268.81 515.30,269.50" fill="none" stroke="#1f77b6" stroke-width="1.35" stroke-linejoin="round"/>
<rect x="391.5" y="225.3" width="130.1" height="71.4" fill="none" stroke="#333333" stroke-width="1.3"/>
<line x1="397.36" y1="296.70" x2="397.36" y2="299.30" stroke="#333333" stroke-width="1.35"/>
<text x="397.36" y="307.20" font-size="8.2" text-anchor="middle" fill="#2e2e2e" >&#8722;30</text>
<line x1="421.00" y1="296.70" x2="421.00" y2="299.30" stroke="#333333" stroke-width="1.35"/>
<text x="421.00" y="307.20" font-size="8.2" text-anchor="middle" fill="#2e2e2e" >0</text>
<line x1="444.64" y1="296.70" x2="444.64" y2="299.30" stroke="#333333" stroke-width="1.35"/>
<text x="444.64" y="307.20" font-size="8.2" text-anchor="middle" fill="#2e2e2e" >30</text>
<line x1="468.28" y1="296.70" x2="468.28" y2="299.30" stroke="#333333" stroke-width="1.35"/>
<text x="468.28" y="307.20" font-size="8.2" text-anchor="middle" fill="#2e2e2e" >60</text>
<line x1="491.92" y1="296.70" x2="491.92" y2="299.30" stroke="#333333" stroke-width="1.35"/>
<text x="491.92" y="307.20" font-size="8.2" text-anchor="middle" fill="#2e2e2e" >90</text>
<line x1="515.56" y1="296.70" x2="515.56" y2="299.30" stroke="#333333" stroke-width="1.35"/>
<text x="515.56" y="307.20" font-size="8.2" text-anchor="middle" fill="#2e2e2e" >120</text>
<line x1="388.10" y1="225.40" x2="391.50" y2="225.40" stroke="#333333" stroke-width="1.35"/>
<text x="386.90" y="228.30" font-size="8.2" text-anchor="end" fill="#2e2e2e" >6</text>
<line x1="388.10" y1="242.57" x2="391.50" y2="242.57" stroke="#333333" stroke-width="1.35"/>
<text x="386.90" y="245.47" font-size="8.2" text-anchor="end" fill="#2e2e2e" >3</text>
<line x1="388.10" y1="259.75" x2="391.50" y2="259.75" stroke="#333333" stroke-width="1.35"/>
<text x="386.90" y="262.65" font-size="8.2" text-anchor="end" fill="#2e2e2e" >0</text>
<line x1="388.10" y1="276.93" x2="391.50" y2="276.93" stroke="#333333" stroke-width="1.35"/>
<text x="386.90" y="279.82" font-size="8.2" text-anchor="end" fill="#2e2e2e" >&#8722;3</text>
<line x1="388.10" y1="294.10" x2="391.50" y2="294.10" stroke="#333333" stroke-width="1.35"/>
<text x="386.90" y="297.00" font-size="8.2" text-anchor="end" fill="#2e2e2e" >&#8722;6</text>
<rect x="84.0" y="320.0" width="129.9" height="71.4" fill="#fff"/>
<rect x="113.00" y="320.0" width="71.92" height="71.4" fill="#e2e4f1"/>
<rect x="136.74" y="320.0" width="24.64" height="71.4" fill="#e8d5d8"/>
<polyline points="89.70,354.30 90.63,355.18 91.57,355.93 92.50,355.88 93.26,355.33 94.02,355.03 94.78,354.50 95.54,354.10 96.30,354.03 97.06,353.64 97.82,353.25 98.58,353.14 99.34,352.84 100.10,353.09 100.86,353.27 101.62,353.19 102.38,353.41 103.14,353.68 103.90,353.81 104.70,353.39 105.50,353.07 106.30,352.92 107.10,352.79 107.90,353.01 108.70,353.14 109.63,352.43 110.57,352.17 111.50,351.82 112.45,351.92 113.40,352.35 114.16,351.57 114.92,350.53 115.68,349.63 116.44,348.88 117.20,347.88 118.00,347.21 118.80,346.80 119.60,346.44 120.40,346.17 121.20,346.03 122.00,345.32 122.83,344.74 123.65,344.53 124.47,344.26 125.30,344.12 126.12,343.31 126.95,342.48 127.77,341.63 128.60,341.92 129.36,342.90 130.12,343.18 130.88,342.96 131.64,343.07 132.40,343.76 133.33,343.90 134.27,344.04 135.20,343.73 135.96,344.55 136.72,345.03 137.48,345.29 138.24,345.77 139.00,346.49 139.76,345.82 140.52,345.76 141.28,345.88 142.04,346.21 142.80,345.84 143.60,345.71 144.40,345.31 145.20,345.95 146.00,346.21 146.80,346.46 147.60,346.05 148.36,345.41 149.12,345.07 149.88,344.52 150.64,343.97 151.40,344.09 152.16,345.22 152.92,346.38 153.68,346.59 154.44,347.07 155.20,347.77 155.98,347.91 156.77,348.45 157.55,349.17 158.33,349.61 159.12,350.13 159.90,350.83 160.62,350.74 161.35,350.30 162.08,349.70 162.80,349.10 163.60,347.97 164.40,347.17 165.20,346.28 166.00,345.09 166.85,345.68 167.70,346.54 168.55,347.41 169.40,348.06 170.16,348.39 170.91,348.72 171.67,348.90 172.43,350.01 173.19,350.82 173.94,351.66 174.70,352.29 175.46,352.19 176.22,352.05 176.99,351.94 177.75,351.85 178.51,351.59 179.28,351.09 180.04,350.75 180.80,350.65 181.56,351.41 182.32,352.11 183.08,352.03 183.84,352.34 184.60,352.71 185.38,353.02 186.17,353.68 186.95,353.23 187.73,353.14 188.52,352.74 189.30,353.37 190.10,353.90 190.90,353.70 191.70,353.29 192.50,353.15 193.30,352.60 194.10,352.11 194.91,351.91 195.73,352.24 196.54,352.82 197.36,353.01 198.17,353.06 198.99,353.42 199.80,353.70 200.73,353.20 201.67,352.26 202.60,351.33 203.41,351.35 204.23,351.86 205.04,352.57 205.86,352.30 206.67,351.81 207.49,351.31 208.30,351.80" fill="none" stroke="#1f77b6" stroke-width="1.35" stroke-linejoin="round"/>
<rect x="84.0" y="320.0" width="129.9" height="71.4" fill="none" stroke="#333333" stroke-width="1.3"/>
<line x1="89.86" y1="391.40" x2="89.86" y2="394.00" stroke="#333333" stroke-width="1.35"/>
<text x="89.86" y="401.90" font-size="8.2" text-anchor="middle" fill="#2e2e2e" >&#8722;30</text>
<line x1="113.50" y1="391.40" x2="113.50" y2="394.00" stroke="#333333" stroke-width="1.35"/>
<text x="113.50" y="401.90" font-size="8.2" text-anchor="middle" fill="#2e2e2e" >0</text>
<line x1="137.14" y1="391.40" x2="137.14" y2="394.00" stroke="#333333" stroke-width="1.35"/>
<text x="137.14" y="401.90" font-size="8.2" text-anchor="middle" fill="#2e2e2e" >30</text>
<line x1="160.78" y1="391.40" x2="160.78" y2="394.00" stroke="#333333" stroke-width="1.35"/>
<text x="160.78" y="401.90" font-size="8.2" text-anchor="middle" fill="#2e2e2e" >60</text>
<line x1="184.42" y1="391.40" x2="184.42" y2="394.00" stroke="#333333" stroke-width="1.35"/>
<text x="184.42" y="401.90" font-size="8.2" text-anchor="middle" fill="#2e2e2e" >90</text>
<line x1="208.06" y1="391.40" x2="208.06" y2="394.00" stroke="#333333" stroke-width="1.35"/>
<text x="208.06" y="401.90" font-size="8.2" text-anchor="middle" fill="#2e2e2e" >120</text>
<line x1="80.60" y1="320.10" x2="84.00" y2="320.10" stroke="#333333" stroke-width="1.35"/>
<text x="79.40" y="323.00" font-size="8.2" text-anchor="end" fill="#2e2e2e" >6</text>
<line x1="80.60" y1="337.28" x2="84.00" y2="337.28" stroke="#333333" stroke-width="1.35"/>
<text x="79.40" y="340.18" font-size="8.2" text-anchor="end" fill="#2e2e2e" >3</text>
<line x1="80.60" y1="354.45" x2="84.00" y2="354.45" stroke="#333333" stroke-width="1.35"/>
<text x="79.40" y="357.35" font-size="8.2" text-anchor="end" fill="#2e2e2e" >0</text>
<line x1="80.60" y1="371.62" x2="84.00" y2="371.62" stroke="#333333" stroke-width="1.35"/>
<text x="79.40" y="374.52" font-size="8.2" text-anchor="end" fill="#2e2e2e" >&#8722;3</text>
<line x1="80.60" y1="388.80" x2="84.00" y2="388.80" stroke="#333333" stroke-width="1.35"/>
<text x="79.40" y="391.70" font-size="8.2" text-anchor="end" fill="#2e2e2e" >&#8722;6</text>
<rect x="238.4" y="320.0" width="130.0" height="71.4" fill="#fff"/>
<rect x="267.40" y="320.0" width="71.92" height="71.4" fill="#e2e4f1"/>
<rect x="291.14" y="320.0" width="24.64" height="71.4" fill="#e8d5d8"/>
<polyline points="243.70,354.30 244.40,354.38 245.10,353.79 245.80,353.48 246.50,353.23 247.22,353.79 247.95,354.25 248.68,354.29 249.40,354.23 250.25,353.34 251.10,353.35 251.95,353.46 252.80,352.74 253.64,352.35 254.48,352.66 255.32,353.75 256.16,354.47 257.00,354.98 257.81,354.98 258.63,354.67 259.44,354.35 260.26,353.99 261.07,354.35 261.89,354.44 262.70,354.58 263.51,354.32 264.33,353.95 265.14,353.52 265.96,353.24 266.77,353.12 267.59,353.37 268.40,353.54 269.10,352.05 269.80,350.57 270.50,349.27 271.20,347.73 272.00,346.41 272.80,345.44 273.60,344.09 274.40,342.66 275.20,341.61 276.00,340.76 276.70,340.66 277.40,340.90 278.10,340.67 278.80,340.85 279.58,340.92 280.37,340.80 281.15,340.82 281.93,340.37 282.72,340.04 283.50,339.60 284.26,339.43 285.02,339.56 285.78,339.50 286.54,339.70 287.30,339.56 288.10,339.35 288.90,338.96 289.70,338.69 290.50,338.71 291.30,338.24 292.10,338.08 292.93,340.52 293.77,343.07 294.60,345.44 295.42,344.84 296.24,344.39 297.06,343.30 297.88,342.48 298.70,342.09 299.50,342.02 300.30,342.30 301.10,342.15 301.90,342.06 302.70,342.14 303.50,342.30 304.28,343.01 305.07,343.17 305.85,343.30 306.63,343.55 307.42,344.08 308.20,344.54 309.00,345.25 309.80,345.30 310.60,345.62 311.40,345.38 312.20,345.30 313.00,345.00 313.78,345.18 314.57,345.79 315.35,345.74 316.13,344.87 316.92,344.46 317.70,344.24 318.46,344.09 319.22,344.27 319.98,344.18 320.74,343.74 321.50,343.66 322.26,343.62 323.02,343.91 323.78,344.08 324.54,343.57 325.30,343.30 326.06,343.53 326.82,343.61 327.58,343.97 328.34,344.12 329.10,344.49 329.86,344.54 330.62,343.66 331.38,343.16 332.14,342.25 332.90,342.12 333.66,341.67 334.42,341.72 335.18,341.68 335.94,341.70 336.70,341.30 337.40,342.24 338.10,343.43 338.80,344.39 339.50,345.54 340.30,346.57 341.10,347.30 341.90,347.97 342.70,348.56 343.50,349.44 344.30,349.94 345.11,350.74 345.93,351.95 346.74,352.59 347.56,353.03 348.37,353.62 349.19,353.89 350.00,354.71 350.78,354.70 351.57,354.62 352.35,354.30 353.13,354.23 353.92,354.03 354.70,353.53 355.46,353.62 356.22,353.24 356.98,353.46 357.74,353.34 358.50,353.32 359.45,353.19 360.40,352.58 361.35,353.40 362.30,354.30" fill="none" stroke="#1f77b6" stroke-width="1.35" stroke-linejoin="round"/>
<rect x="238.4" y="320.0" width="130.0" height="71.4" fill="none" stroke="#333333" stroke-width="1.3"/>
<line x1="244.26" y1="391.40" x2="244.26" y2="394.00" stroke="#333333" stroke-width="1.35"/>
<text x="244.26" y="401.90" font-size="8.2" text-anchor="middle" fill="#2e2e2e" >&#8722;30</text>
<line x1="267.90" y1="391.40" x2="267.90" y2="394.00" stroke="#333333" stroke-width="1.35"/>
<text x="267.90" y="401.90" font-size="8.2" text-anchor="middle" fill="#2e2e2e" >0</text>
<line x1="291.54" y1="391.40" x2="291.54" y2="394.00" stroke="#333333" stroke-width="1.35"/>
<text x="291.54" y="401.90" font-size="8.2" text-anchor="middle" fill="#2e2e2e" >30</text>
<line x1="315.18" y1="391.40" x2="315.18" y2="394.00" stroke="#333333" stroke-width="1.35"/>
<text x="315.18" y="401.90" font-size="8.2" text-anchor="middle" fill="#2e2e2e" >60</text>
<line x1="338.82" y1="391.40" x2="338.82" y2="394.00" stroke="#333333" stroke-width="1.35"/>
<text x="338.82" y="401.90" font-size="8.2" text-anchor="middle" fill="#2e2e2e" >90</text>
<line x1="362.46" y1="391.40" x2="362.46" y2="394.00" stroke="#333333" stroke-width="1.35"/>
<text x="362.46" y="401.90" font-size="8.2" text-anchor="middle" fill="#2e2e2e" >120</text>
<line x1="235.00" y1="320.10" x2="238.40" y2="320.10" stroke="#333333" stroke-width="1.35"/>
<text x="233.80" y="323.00" font-size="8.2" text-anchor="end" fill="#2e2e2e" >6</text>
<line x1="235.00" y1="337.28" x2="238.40" y2="337.28" stroke="#333333" stroke-width="1.35"/>
<text x="233.80" y="340.18" font-size="8.2" text-anchor="end" fill="#2e2e2e" >3</text>
<line x1="235.00" y1="354.45" x2="238.40" y2="354.45" stroke="#333333" stroke-width="1.35"/>
<text x="233.80" y="357.35" font-size="8.2" text-anchor="end" fill="#2e2e2e" >0</text>
<line x1="235.00" y1="371.62" x2="238.40" y2="371.62" stroke="#333333" stroke-width="1.35"/>
<text x="233.80" y="374.52" font-size="8.2" text-anchor="end" fill="#2e2e2e" >&#8722;3</text>
<line x1="235.00" y1="388.80" x2="238.40" y2="388.80" stroke="#333333" stroke-width="1.35"/>
<text x="233.80" y="391.70" font-size="8.2" text-anchor="end" fill="#2e2e2e" >&#8722;6</text>
<rect x="391.5" y="320.0" width="130.1" height="71.4" fill="#fff"/>
<rect x="420.50" y="320.0" width="71.92" height="71.4" fill="#e2e4f1"/>
<rect x="444.24" y="320.0" width="24.64" height="71.4" fill="#e8d5d8"/>
<polyline points="397.60,354.20 398.33,353.78 399.05,353.92 399.77,354.03 400.50,353.63 401.35,352.90 402.20,352.45 403.05,352.06 403.90,351.35 404.74,352.03 405.58,352.34 406.42,352.98 407.26,353.54 408.10,354.36 408.86,354.01 409.62,353.44 410.38,353.01 411.14,353.55 411.90,353.73 412.68,353.36 413.47,352.64 414.25,352.34 415.03,352.20 415.82,352.08 416.60,352.22 417.36,352.49 418.12,353.08 418.88,353.09 419.64,353.51 420.40,353.58 421.35,357.01 422.30,361.14 423.13,363.98 423.97,366.73 424.80,369.37 425.57,369.56 426.33,369.96 427.10,370.74 427.86,371.43 428.62,372.54 429.38,373.31 430.14,374.13 430.90,374.97 431.66,375.62 432.42,376.36 433.18,377.01 433.94,377.87 434.70,378.34 435.40,379.15 436.10,380.32 436.80,381.00 437.50,382.26 438.20,383.53 438.90,385.35 439.60,386.94 440.30,387.60 441.02,386.45 441.75,385.40 442.48,384.52 443.20,383.73 443.90,383.51 444.60,382.89 445.30,382.47 446.00,382.04 446.95,378.50 447.90,375.09 448.66,371.53 449.42,368.22 450.18,364.68 450.94,361.17 451.70,357.84 452.46,355.98 453.22,353.85 453.98,351.94 454.74,349.59 455.50,347.45 456.30,347.07 457.10,346.42 457.90,346.29 458.70,345.83 459.50,345.50 460.30,344.87 461.00,345.23 461.70,345.26 462.40,345.73 463.10,346.20 463.83,347.19 464.55,348.36 465.27,349.03 466.00,349.19 466.70,349.12 467.40,349.22 468.10,349.33 468.80,349.44 469.52,351.34 470.25,353.18 470.98,355.25 471.70,356.71 472.56,358.38 473.42,360.32 474.28,362.35 475.14,364.28 476.00,366.11 476.84,366.13 477.68,366.01 478.52,365.99 479.36,365.48 480.20,365.29 480.96,365.55 481.72,365.63 482.48,365.23 483.24,364.82 484.00,364.95 484.76,365.21 485.52,365.39 486.28,365.56 487.04,365.21 487.80,365.45 488.56,365.37 489.32,365.37 490.08,365.53 490.84,365.65 491.60,365.73 492.53,364.74 493.47,363.78 494.40,362.79 495.12,361.94 495.85,360.81 496.57,359.33 497.30,357.85 498.00,358.25 498.70,358.81 499.40,359.65 500.10,360.16 500.86,359.96 501.62,359.17 502.38,358.33 503.14,357.70 503.90,357.31 504.66,357.86 505.42,357.53 506.18,357.39 506.94,357.35 507.70,357.36 508.43,357.88 509.15,358.15 509.88,358.92 510.60,359.97 511.53,359.48 512.47,358.72 513.40,357.87 514.35,358.44 515.30,358.40" fill="none" stroke="#1f77b6" stroke-width="1.35" stroke-linejoin="round"/>
<rect x="391.5" y="320.0" width="130.1" height="71.4" fill="none" stroke="#333333" stroke-width="1.3"/>
<line x1="397.36" y1="391.40" x2="397.36" y2="394.00" stroke="#333333" stroke-width="1.35"/>
<text x="397.36" y="401.90" font-size="8.2" text-anchor="middle" fill="#2e2e2e" >&#8722;30</text>
<line x1="421.00" y1="391.40" x2="421.00" y2="394.00" stroke="#333333" stroke-width="1.35"/>
<text x="421.00" y="401.90" font-size="8.2" text-anchor="middle" fill="#2e2e2e" >0</text>
<line x1="444.64" y1="391.40" x2="444.64" y2="394.00" stroke="#333333" stroke-width="1.35"/>
<text x="444.64" y="401.90" font-size="8.2" text-anchor="middle" fill="#2e2e2e" >30</text>
<line x1="468.28" y1="391.40" x2="468.28" y2="394.00" stroke="#333333" stroke-width="1.35"/>
<text x="468.28" y="401.90" font-size="8.2" text-anchor="middle" fill="#2e2e2e" >60</text>
<line x1="491.92" y1="391.40" x2="491.92" y2="394.00" stroke="#333333" stroke-width="1.35"/>
<text x="491.92" y="401.90" font-size="8.2" text-anchor="middle" fill="#2e2e2e" >90</text>
<line x1="515.56" y1="391.40" x2="515.56" y2="394.00" stroke="#333333" stroke-width="1.35"/>
<text x="515.56" y="401.90" font-size="8.2" text-anchor="middle" fill="#2e2e2e" >120</text>
<line x1="388.10" y1="320.10" x2="391.50" y2="320.10" stroke="#333333" stroke-width="1.35"/>
<text x="386.90" y="323.00" font-size="8.2" text-anchor="end" fill="#2e2e2e" >6</text>
<line x1="388.10" y1="337.28" x2="391.50" y2="337.28" stroke="#333333" stroke-width="1.35"/>
<text x="386.90" y="340.18" font-size="8.2" text-anchor="end" fill="#2e2e2e" >3</text>
<line x1="388.10" y1="354.45" x2="391.50" y2="354.45" stroke="#333333" stroke-width="1.35"/>
<text x="386.90" y="357.35" font-size="8.2" text-anchor="end" fill="#2e2e2e" >0</text>
<line x1="388.10" y1="371.62" x2="391.50" y2="371.62" stroke="#333333" stroke-width="1.35"/>
<text x="386.90" y="374.52" font-size="8.2" text-anchor="end" fill="#2e2e2e" >&#8722;3</text>
<line x1="388.10" y1="388.80" x2="391.50" y2="388.80" stroke="#333333" stroke-width="1.35"/>
<text x="386.90" y="391.70" font-size="8.2" text-anchor="end" fill="#2e2e2e" >&#8722;6</text>
<polygon points="444.60,187.90 435.14,191.75 439.45,193.00 441.19,196.81" fill="#1e1e1e"/>
<polygon points="136.60,262.20 127.36,264.84 131.41,266.60 132.86,270.56" fill="#1e1e1e"/>
<polygon points="304.10,243.40 297.83,239.33 298.56,244.02 296.51,249.01" fill="#1e1e1e"/>
<polygon points="139.20,349.90 129.74,354.08 133.57,355.18 134.58,358.92" fill="#1e1e1e"/>
<polygon points="292.10,348.40 282.64,352.58 286.38,353.68 287.26,357.42" fill="#1e1e1e"/>
<text x="148.95" y="415.60" font-size="9.75" text-anchor="middle" fill="#2e2e2e" >Time (s)</text>
<text x="303.40" y="415.60" font-size="9.75" text-anchor="middle" fill="#2e2e2e" >Time (s)</text>
<text x="456.55" y="415.60" font-size="9.75" text-anchor="middle" fill="#2e2e2e" >Time (s)</text>
<text x="124.30" y="29.30" font-size="10.6" text-anchor="middle" fill="#2e2e2e" >1 mA</text>
<text x="277.30" y="29.30" font-size="10.6" text-anchor="middle" fill="#2e2e2e" >3 mA</text>
<text x="431.00" y="29.30" font-size="10.6" text-anchor="middle" fill="#2e2e2e" >12 mA</text>
<text x="50.80" y="76.80" font-size="10.7" text-anchor="end" fill="#2e2e2e" >6 mA</text>
<text x="50.80" y="170.60" font-size="10.7" text-anchor="end" fill="#2e2e2e" >10 mA</text>
<text x="50.80" y="265.40" font-size="10.7" text-anchor="end" fill="#2e2e2e" >15 mA</text>
<text x="50.80" y="357.90" font-size="10.7" text-anchor="end" fill="#2e2e2e" >20 mA</text>
<text x="0" y="0" font-size="10" text-anchor="middle" fill="#2e2e2e" transform="translate(64.4,71.50) rotate(-90)">ΔHR (bpm)</text>
<text x="0" y="0" font-size="10" text-anchor="middle" fill="#2e2e2e" transform="translate(64.4,166.40) rotate(-90)">ΔHR (bpm)</text>
<text x="0" y="0" font-size="10" text-anchor="middle" fill="#2e2e2e" transform="translate(64.4,261.00) rotate(-90)">ΔHR (bpm)</text>
<text x="0" y="0" font-size="10" text-anchor="middle" fill="#2e2e2e" transform="translate(64.4,355.70) rotate(-90)">ΔHR (bpm)</text>
<text x="-0.40" y="14.90" font-size="16.5" text-anchor="start" fill="#2e2e2e" letter-spacing="0.6">A)</text>
<text x="82.90" y="10.90" font-size="11.1" text-anchor="start" fill="#2e2e2e" >Increasing LF-VNS Amplitude</text>
<rect x="237" y="4.1" width="208" height="5.5" fill="#262a2d"/>
<polygon points="444,0.4 455.6,7.0 444,13.7" fill="#262a2d"/>
<text x="0" y="0" font-size="11.0" text-anchor="middle" fill="#2e2e2e" transform="translate(11.6,126.2) rotate(-90)">Increasing HF Amplitude</text>
<rect x="6.0" y="195.2" width="4.9" height="151" fill="#262a2d"/>
<polygon points="1.3,345.4 15.4,345.4 8.35,357.7" fill="#262a2d"/>
<rect x="533.8" y="31.9" width="96.2" height="38.2" rx="2.2" fill="#fff" stroke="#1f1f1f" stroke-width="1.6"/>
<rect x="537.8" y="35.9" width="26.2" height="10" fill="#e2e4f1"/>
<rect x="537.8" y="53.9" width="26.2" height="9.6" fill="#fde5dd"/>
<text x="566.00" y="44.60" font-size="10.9" text-anchor="start" fill="#2e2e2e" >LF-VNS</text>
<text x="566.00" y="63.00" font-size="10.9" text-anchor="start" fill="#2e2e2e" >+10 kHz HF</text>
<rect x="537.1" y="85.5" width="25" height="13.2" fill="#cce5cf" stroke="#c6c6c6" stroke-width="1.8"/>
<text x="567.60" y="95.50" font-size="10.95" text-anchor="start" fill="#2e2e2e" >No HF Cardiac Effects</text>
<rect x="537.1" y="128.9" width="24.8" height="12.9" fill="#f7f7d3" stroke="#c6c6c6" stroke-width="1.8"/>
<polygon points="553.9,135.2 545.0,131.1 547.4,135.2 545.0,139.2" fill="#1e1e1e"/>
<text x="569.80" y="127.20" font-size="10.95" text-anchor="start" fill="#2e2e2e" >HF Induced Cardiac</text>
<text x="569.80" y="140.10" font-size="10.95" text-anchor="start" fill="#2e2e2e" >Effects on Top of</text>
<text x="569.80" y="153.00" font-size="10.95" text-anchor="start" fill="#2e2e2e" >LF-VNS Effects</text>
<rect x="536.9" y="174.0" width="25.2" height="12.9" fill="#c8c8cc" stroke="#c2c2c5" stroke-width="1.8"/>
<text x="569.80" y="175.00" font-size="10.95" text-anchor="start" fill="#2e2e2e" >HF Block of</text>
<text x="569.80" y="187.95" font-size="10.95" text-anchor="start" fill="#2e2e2e" >LF-VNS</text>
<text x="569.80" y="200.90" font-size="10.95" text-anchor="start" fill="#2e2e2e" >Cardiac Effects</text>
<text x="533.80" y="230.70" font-size="16.4" text-anchor="start" fill="#2e2e2e" letter-spacing="0.6">B)</text>
<text x="565.30" y="230.10" font-size="10.85" text-anchor="start" fill="#2e2e2e" >Cohort ΔHR DRC</text>
<line x1="559.5" y1="340.60" x2="647.4" y2="340.60" stroke="#cfd2cf" stroke-width="1"/>
<text x="556.20" y="243.10" font-size="7.9" text-anchor="end" fill="#2e2e2e" >2.0</text>
<text x="556.20" y="268.15" font-size="7.9" text-anchor="end" fill="#2e2e2e" >1.5</text>
<text x="556.20" y="293.20" font-size="7.9" text-anchor="end" fill="#2e2e2e" >1.0</text>
<text x="556.20" y="318.25" font-size="7.9" text-anchor="end" fill="#2e2e2e" >0.5</text>
<text x="556.20" y="343.30" font-size="7.9" text-anchor="end" fill="#2e2e2e" >0</text>
<text x="556.20" y="368.35" font-size="7.9" text-anchor="end" fill="#2e2e2e" >&#8722;0.5</text>
<text x="567.70" y="399.90" font-size="7.6" text-anchor="middle" fill="#2e2e2e" >6</text>
<text x="590.80" y="399.90" font-size="7.6" text-anchor="middle" fill="#2e2e2e" >10</text>
<text x="614.10" y="399.90" font-size="7.6" text-anchor="middle" fill="#2e2e2e" >15</text>
<text x="637.50" y="399.90" font-size="7.6" text-anchor="middle" fill="#2e2e2e" >20</text>
<text x="607.70" y="410.10" font-size="8.3" text-anchor="middle" fill="#2e2e2e" >HF Amplitude (mA)</text>
<text x="0" y="0" font-size="8.15" text-anchor="middle" fill="#2e2e2e" transform="translate(543.0,312.4) rotate(-90)">HF ΔHR (Normalized)</text>
<line x1="561.10" y1="276.3" x2="578.90" y2="276.3" stroke="#383838" stroke-width="1.45"/>
<line x1="570.00" y1="268.4" x2="570.00" y2="282.4" stroke="#383838" stroke-width="1.45"/>
<line x1="567.30" y1="268.4" x2="572.70" y2="268.4" stroke="#383838" stroke-width="1.45"/>
<line x1="567.30" y1="282.4" x2="572.70" y2="282.4" stroke="#383838" stroke-width="1.45"/>
<line x1="583.70" y1="284.6" x2="601.50" y2="284.6" stroke="#383838" stroke-width="1.45"/>
<line x1="592.60" y1="279.0" x2="592.60" y2="290.6" stroke="#383838" stroke-width="1.45"/>
<line x1="589.90" y1="279.0" x2="595.30" y2="279.0" stroke="#383838" stroke-width="1.45"/>
<line x1="589.90" y1="290.6" x2="595.30" y2="290.6" stroke="#383838" stroke-width="1.45"/>
<line x1="605.90" y1="298.2" x2="623.70" y2="298.2" stroke="#383838" stroke-width="1.45"/>
<line x1="614.80" y1="290.5" x2="614.80" y2="306.0" stroke="#383838" stroke-width="1.45"/>
<line x1="612.10" y1="290.5" x2="617.50" y2="290.5" stroke="#383838" stroke-width="1.45"/>
<line x1="612.10" y1="306.0" x2="617.50" y2="306.0" stroke="#383838" stroke-width="1.45"/>
<line x1="628.10" y1="334.2" x2="645.90" y2="334.2" stroke="#383838" stroke-width="1.45"/>
<line x1="637.00" y1="322.7" x2="637.00" y2="344.7" stroke="#383838" stroke-width="1.45"/>
<line x1="634.30" y1="322.7" x2="639.70" y2="322.7" stroke="#383838" stroke-width="1.45"/>
<line x1="634.30" y1="344.7" x2="639.70" y2="344.7" stroke="#383838" stroke-width="1.45"/>
<circle cx="570.2" cy="243.2" r="0.95" fill="#9467bd"/>
<circle cx="568.6" cy="266.4" r="0.95" fill="#9467bd"/>
<circle cx="570.5" cy="267" r="0.95" fill="#9467bd"/>
<circle cx="568.6" cy="285" r="0.95" fill="#2ca02c"/>
<circle cx="570.5" cy="286.7" r="0.95" fill="#d62728"/>
<circle cx="572.2" cy="285" r="0.95" fill="#2ca02c"/>
<circle cx="570.1" cy="295" r="0.95" fill="#1f77b4"/>
<circle cx="592.6" cy="262.8" r="0.95" fill="#9467bd"/>
<circle cx="592.6" cy="267.8" r="0.95" fill="#2ca02c"/>
<circle cx="592" cy="280.7" r="0.95" fill="#9467bd"/>
<circle cx="592" cy="286.7" r="0.95" fill="#2ca02c"/>
<circle cx="592.6" cy="291.5" r="0.95" fill="#d62728"/>
<circle cx="590.4" cy="301.8" r="0.95" fill="#1f77b4"/>
<circle cx="592.6" cy="302.5" r="0.95" fill="#1f77b4"/>
<circle cx="614.8" cy="248.7" r="0.95" fill="#9467bd"/>
<circle cx="613.1" cy="294.6" r="0.95" fill="#9467bd"/>
<circle cx="614.8" cy="296.5" r="0.95" fill="#ff7f0e"/>
<circle cx="614.8" cy="301.8" r="0.95" fill="#d62728"/>
<circle cx="614.8" cy="309.4" r="0.95" fill="#9467bd"/>
<circle cx="613.1" cy="315.8" r="0.95" fill="#1f77b4"/>
<circle cx="615.3" cy="316.6" r="0.95" fill="#1f77b4"/>
<circle cx="637" cy="293.9" r="0.95" fill="#ff7f0e"/>
<circle cx="637" cy="299.4" r="0.95" fill="#ff7f0e"/>
<circle cx="637" cy="315.8" r="0.95" fill="#9467bd"/>
<circle cx="637" cy="319.4" r="0.95" fill="#2ca02c"/>
<circle cx="637" cy="347.8" r="0.95" fill="#9467bd"/>
<circle cx="637" cy="349.6" r="0.95" fill="#9467bd"/>
<circle cx="637" cy="351.2" r="0.95" fill="#9467bd"/>
<circle cx="637" cy="359" r="0.95" fill="#1f77b4"/>
<circle cx="637" cy="383.7" r="0.95" fill="#d62728"/>
<polygon points="632.60,283.90 633.21,285.36 634.79,285.49 633.58,286.52 633.95,288.06 632.60,287.24 631.25,288.06 631.62,286.52 630.41,285.49 631.99,285.36" fill="#333"/>
<polygon points="636.90,283.90 637.51,285.36 639.09,285.49 637.88,286.52 638.25,288.06 636.90,287.24 635.55,288.06 635.92,286.52 634.71,285.49 636.29,285.36" fill="#333"/>
<polygon points="641.40,283.90 642.01,285.36 643.59,285.49 642.38,286.52 642.75,288.06 641.40,287.24 640.05,288.06 640.42,286.52 639.21,285.49 640.79,285.36" fill="#333"/>
<rect x="559.2" y="236.4" width="88.9" height="154.4" fill="none" stroke="#2a2a2a" stroke-width="1.8"/>
<rect x="651.6" y="236.6" width="32.4" height="52.2" rx="2" fill="#fff" stroke="#1f1f1f" stroke-width="1.7"/>
<circle cx="657.6" cy="242.20" r="2.1" fill="#1f77b4"/>
<text x="664.60" y="244.95" font-size="7.9" text-anchor="start" fill="#2e2e2e" >P01</text>
<circle cx="657.6" cy="252.30" r="2.1" fill="#ff7f0e"/>
<text x="664.60" y="255.05" font-size="7.9" text-anchor="start" fill="#2e2e2e" >P02</text>
<circle cx="657.6" cy="262.40" r="2.1" fill="#2ca02c"/>
<text x="664.60" y="265.15" font-size="7.9" text-anchor="start" fill="#2e2e2e" >P03</text>
<circle cx="657.6" cy="272.50" r="2.1" fill="#d62728"/>
<text x="664.60" y="275.25" font-size="7.9" text-anchor="start" fill="#2e2e2e" >P04</text>
<circle cx="657.6" cy="282.60" r="2.1" fill="#9467bd"/>
<text x="664.60" y="285.35" font-size="7.9" text-anchor="start" fill="#2e2e2e" >P05</text>
</svg>
</body></html>
